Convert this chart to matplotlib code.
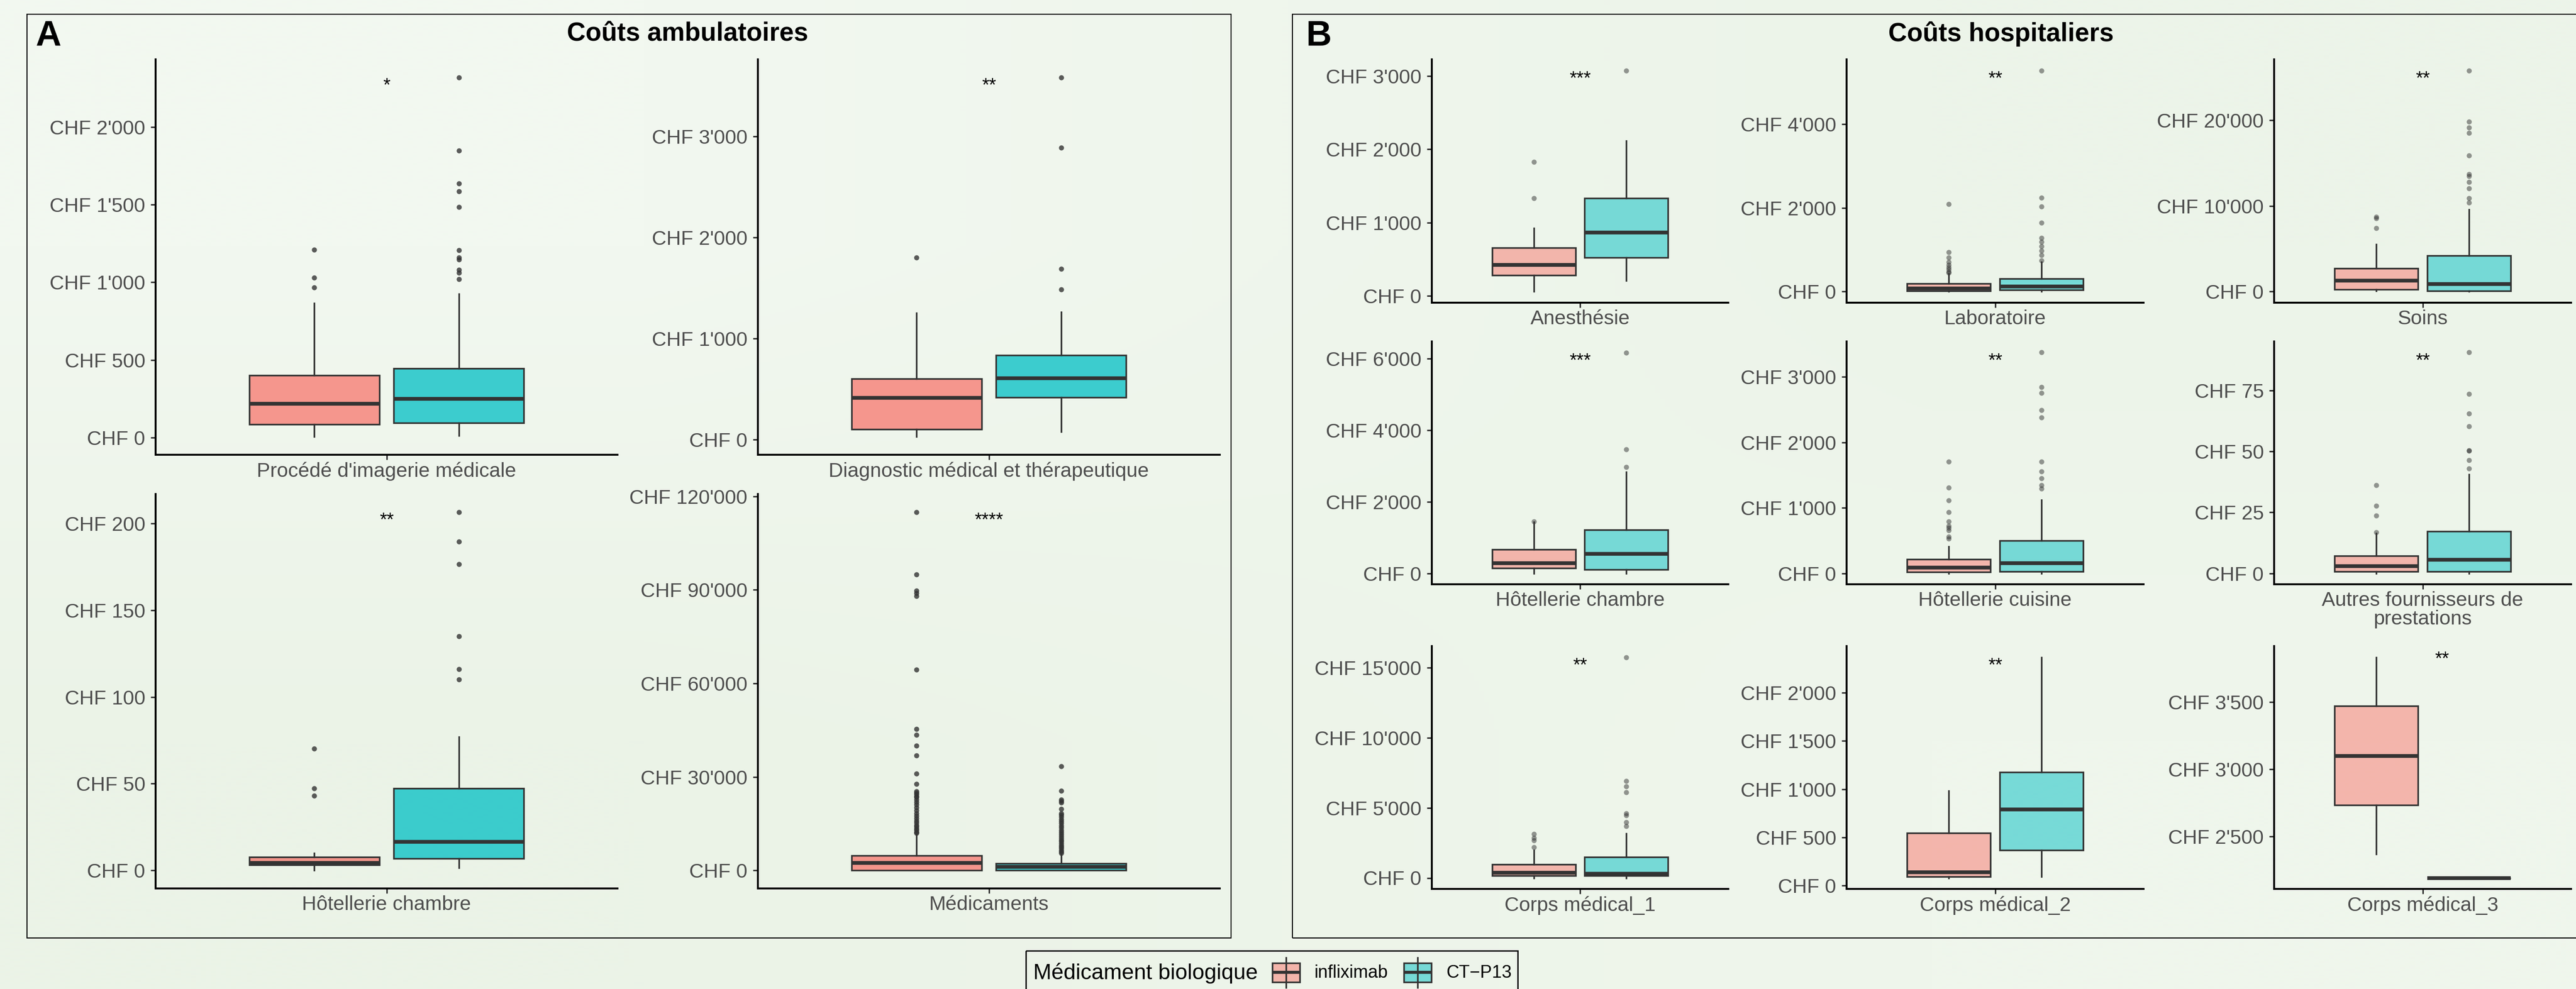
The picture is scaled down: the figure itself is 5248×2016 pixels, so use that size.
import matplotlib
matplotlib.use('Agg')
import matplotlib.pyplot as plt
import numpy as np
from matplotlib.patches import Rectangle
from matplotlib.lines import Line2D
from matplotlib.ticker import FuncFormatter

plt.rcParams['font.family'] = ['Liberation Sans', 'DejaVu Sans']

# ---------------- DATA ----------------
# Panel A : Coûts ambulatoires
cat_A = ["Procédé d'imagerie médicale", "Diagnostic médical et thérapeutique",
         "Hôtellerie chambre", "Médicaments"]
stars_A = ['*', '**', '**', '****']
ticks_A = [[0, 500, 1000, 1500, 2000], [0, 1000, 2000, 3000],
           [0, 50, 100, 150, 200], [0, 30000, 60000, 90000, 120000]]
inf_q1_A = [85, 102, 3.2, 0]
inf_med_A = [216, 412, 4.5, 2500]
inf_q3_A = [402, 601, 7.7, 4800]
inf_lo_A = [4, 25, 0, 0]
inf_hi_A = [864, 1249, 9.9, 11500]
inf_fl_A = [[965, 1029, 1211],
            [1800],
            [43, 47.3, 70.3],
            [12000, 12400, 12900, 13400, 14000, 14600, 15300, 16000, 16800, 17600,
             18400, 19300, 20200, 21100, 22000, 22800, 23500, 23900, 24400, 24900,
             25400, 27800, 31000, 36900, 40100, 43500, 45400, 64500, 88000, 89000,
             89700, 94900, 115000]]
ct_q1_A = [95, 415, 6.8, 0]
ct_med_A = [250, 604, 16.4, 1100]
ct_q3_A = [446, 834, 47.3, 2300]
ct_lo_A = [10, 77, 1.4, 0]
ct_hi_A = [926, 1258, 77, 5300]
ct_fl_A = [[1021, 1060, 1080, 1148, 1160, 1207, 1485, 1586, 1637, 1849, 2321],
           [1481, 1686, 2888, 3582],
           [110, 116, 135, 176.5, 189.4, 206.5],
           [5600, 6100, 6600, 7100, 7600, 8100, 8700, 9300, 9900, 10500, 11100,
            11700, 12300, 13000, 13700, 14400, 15100, 15800, 16500, 17200, 17900,
            18400, 19800, 21800, 22300, 22800, 25500, 33500]]

# Panel B : Coûts hospitaliers
cat_B = ["Anesthésie", "Laboratoire", "Soins", "Hôtellerie chambre",
         "Hôtellerie cuisine", "Autres fournisseurs de\nprestations",
         "Corps médical_1", "Corps médical_2", "Corps médical_3"]
stars_B = ['***', '**', '**', '***', '**', '**', '**', '**', '**']
ticks_B = [[0, 1000, 2000, 3000], [0, 2000, 4000], [0, 10000, 20000],
           [0, 2000, 4000, 6000], [0, 1000, 2000, 3000], [0, 25, 50, 75],
           [0, 5000, 10000, 15000], [0, 500, 1000, 1500, 2000], [2500, 3000, 3500]]
inf_q1_B = [279, 21, 256, 147, 17, 0.63, 145, 93, 2733]
inf_med_B = [420, 78, 1278, 281, 84, 2.9, 381, 138, 3101]
inf_q3_B = [656, 188, 2701, 666, 217, 7.1, 962, 544, 3471]
inf_lo_B = [56, 0, 73, 0, 0, 0, 0, 80, 2371]
inf_hi_B = [926, 424, 5511, 1430, 408, 16.5, 1961, 982, 3834]
inf_fl_B = [[1333, 1826],
            [450, 476, 528, 580, 633, 711, 816, 946, 2092],
            [7410, 8578, 8724],
            [1448],
            [525, 558, 659, 692, 726, 793, 930, 1110, 1308, 1702],
            [16.8, 23.6, 27.8, 36.2],
            [2179, 2688, 2869, 3142],
            [],
            []]
ct_q1_B = [519, 42, 73, 104, 23, 0.63, 145, 366, 2193]
ct_med_B = [866, 120, 876, 544, 150, 5.6, 290, 791, 2193]
ct_q3_B = [1333, 308, 4198, 1216, 502, 17.3, 1471, 1178, 2193]
ct_lo_B = [206, 0, 0, 0, 0, 0, 0, 93, 2193]
ct_hi_B = [2113, 711, 9563, 2823, 1124, 40.6, 3178, 2369, 2193]
ct_fl_B = [[3077],
           [737, 868, 973, 1077, 1182, 1286, 1642, 2024, 2243, 5276],
           [10403, 10914, 12045, 12775, 13469, 13688, 15878, 18506, 19126, 19856, 25806],
           [2963, 3464, 6165],
           [1294, 1344, 1451, 1555, 1702, 2384, 2491, 2755, 2849, 3374],
           [43.1, 46.5, 50.3, 50.5, 60.4, 65.6, 73.7, 90.7],
           [3686, 3959, 4467, 4594, 6102, 6538, 6919, 15745],
           [],
           []]

groups = ['infliximab', 'CT\u2212P13']
legend_title = 'Médicament biologique'
title_A = 'Coûts ambulatoires'
title_B = 'Coûts hospitaliers'

# ---------------- STYLE ----------------
W, H = 5248, 2016
PINK = (248/255, 118/255, 109/255)
CYAN = (0/255, 191/255, 196/255)
DARK = '#333333'
TXT = '#4D4D4D'

fig = plt.figure(figsize=(W/100, H/100), dpi=100)

bg = fig.add_axes([0, 0, 1, 1], zorder=-10)
grad = np.array([[[242, 248, 240], [236, 244, 233]],
                 [[235, 243, 231], [239, 246, 236]]]) / 255
bg.imshow(grad, extent=[0, 1, 0, 1], aspect='auto', interpolation='bilinear')
bg.set_xlim(0, 1); bg.set_ylim(0, 1)
bg.axis('off')


def px_axes(x0, y0, x1, y1):
    return fig.add_axes([x0/W, 1 - y1/H, (x1 - x0)/W, (y1 - y0)/H])


def chf(v, pos):
    return "CHF " + f"{int(round(v)):,}".replace(",", "'")


def draw(ax, cat, star, s_inf, s_ct, ticks, alpha_fill, fl_alpha, star_dx=0.0, star_dy=-20):
    bp = ax.bxp([s_inf, s_ct], positions=[1 - 0.1875, 1 + 0.1875], widths=0.3375,
                patch_artist=True, showcaps=False, manage_ticks=False,
                boxprops=dict(edgecolor=DARK, linewidth=2.4),
                whiskerprops=dict(color=DARK, linewidth=2.4),
                medianprops=dict(color=DARK, linewidth=5.5, solid_capstyle='butt'),
                flierprops=dict(marker='o', markerfacecolor=DARK, markeredgecolor='none',
                                markersize=7.5, alpha=fl_alpha, linestyle='none'))
    for patch, c in zip(bp['boxes'], [PINK, CYAN]):
        patch.set_facecolor((*c, alpha_fill))
    vals = [s_inf['whislo'], s_inf['whishi'], s_ct['whislo'], s_ct['whishi']] \
        + list(s_inf['fliers']) + list(s_ct['fliers'])
    mn, mx = min(vals), max(vals)
    r = mx - mn
    ax.set_ylim(mn - 0.05 * r, mx + 0.05 * r)
    ax.set_xlim(0.4, 1.6)
    ax.set_xticks([1])
    ax.set_xticklabels([cat], color=TXT, fontsize=29.5, linespacing=1.0)
    ax.set_yticks(ticks)
    ax.yaxis.set_major_formatter(FuncFormatter(chf))
    ax.tick_params(axis='y', labelsize=29.5, labelcolor=TXT, length=7.2, width=2.2,
                   color=DARK, pad=8)
    ax.tick_params(axis='x', labelsize=29.5, labelcolor=TXT, length=7.2, width=2.2,
                   color=DARK, pad=3)
    for s in ['top', 'right']:
        ax.spines[s].set_visible(False)
    for s in ['left', 'bottom']:
        ax.spines[s].set_linewidth(2.8)
        ax.spines[s].set_color('black')
    ax.set_facecolor('none')
    ax.annotate(star, xy=(1 + star_dx, mx), xytext=(0, star_dy), textcoords='offset points',
                ha='center', va='baseline', fontsize=27, color='black',
                annotation_clip=False)


def stats(q1, med, q3, lo, hi, fl):
    return dict(q1=q1, med=med, q3=q3, whislo=lo, whishi=hi, fliers=fl)


# Panel A layout
A_rects = [(317, 121, 1258, 927), (1544, 121, 2485, 927),
           (317, 1007, 1258, 1811), (1544, 1007, 2485, 1811)]
for i, rc in enumerate(A_rects):
    ax = px_axes(*rc)
    draw(ax, cat_A[i], stars_A[i],
         stats(inf_q1_A[i], inf_med_A[i], inf_q3_A[i], inf_lo_A[i], inf_hi_A[i], inf_fl_A[i]),
         stats(ct_q1_A[i], ct_med_A[i], ct_q3_A[i], ct_lo_A[i], ct_hi_A[i], ct_fl_A[i]),
         ticks_A[i], 0.75, 0.8)

# Panel B layout
cols_B = [(2917, 3521), (3762, 4367), (4633, 5238)]
rows_B = [(121, 617), (696, 1191), (1317, 1812)]
for i in range(9):
    r, c = divmod(i, 3)
    x0, x1 = cols_B[c]
    y0, y1 = rows_B[r]
    ax = px_axes(x0, y0, x1, y1)
    dx, dy = (0.079, -11) if i == 8 else (0.0, -20)
    draw(ax, cat_B[i], stars_B[i],
         stats(inf_q1_B[i], inf_med_B[i], inf_q3_B[i], inf_lo_B[i], inf_hi_B[i], inf_fl_B[i]),
         stats(ct_q1_B[i], ct_med_B[i], ct_q3_B[i], ct_lo_B[i], ct_hi_B[i], ct_fl_B[i]),
         ticks_B[i], 0.5, 0.5, dx, dy)

# Panel frames
for (x0, y0, x1, y1) in [(55, 29, 2508, 1912), (2633, 29, 5262, 1912)]:
    fig.add_artist(Rectangle((x0/W, 1 - y1/H), (x1 - x0)/W, (y1 - y0)/H,
                             transform=fig.transFigure, fill=False, lw=1.5, ec='black'))

# Titles and tags
fig.text(1401/W, 1 - 69/H, title_A, ha='center', va='center', fontsize=38,
         fontweight='bold', color='black')
fig.text(4077/W, 1 - 69/H, title_B, ha='center', va='center', fontsize=38,
         fontweight='bold', color='black')
fig.text(72/W, 1 - 74/H, 'A', ha='left', va='center', fontsize=52, fontweight='bold')
fig.text(2660/W, 1 - 74/H, 'B', ha='left', va='center', fontsize=52, fontweight='bold')

# Legend (drawn manually in pixel coordinates)
lax = px_axes(2090, 1938, 3092, 2050)
lax.set_xlim(2090, 3092)
lax.set_ylim(2050, 1938)
lax.axis('off')
lax.add_patch(Rectangle((2090, 1938), 1002, 112, fill=False, lw=2, ec='black', clip_on=False))
lax.text(2105, 1984, legend_title, ha='left', va='center', fontsize=32, color='black')
for kx, lx, col, lab in [(2592, 2678, PINK, groups[0]), (2860, 2946, CYAN, groups[1])]:
    lax.add_line(Line2D([kx + 28, kx + 28], [1952, 2013], color=DARK, lw=2.4))
    lax.add_patch(Rectangle((kx, 1963), 56, 39, fc=(*col, 0.5), ec=DARK, lw=2.4))
    lax.add_line(Line2D([kx, kx + 56], [1982.5, 1982.5], color=DARK, lw=4.5,
                        solid_capstyle='butt'))
    lax.text(lx, 1984, lab, ha='left', va='center', fontsize=26, color='black')

fig.savefig('out.png', dpi=100)
